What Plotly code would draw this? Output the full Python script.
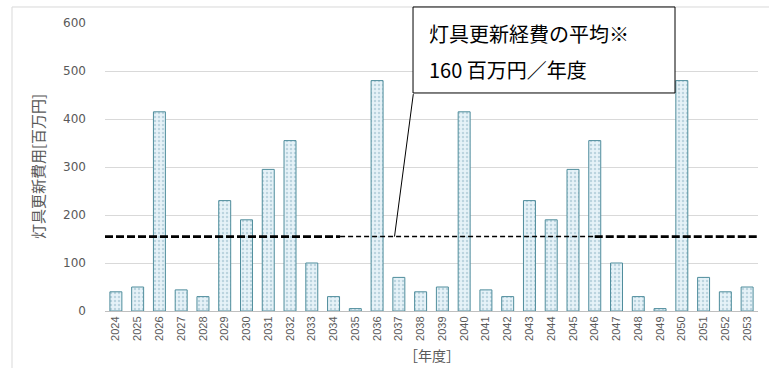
import plotly.graph_objects as go

years = [str(y) for y in range(2024, 2054)]
costs = [40, 50, 415, 44, 30, 230, 190, 295, 355, 100, 30, 5, 480, 70,
         40, 50, 415, 44, 30, 230, 190, 295, 355, 100, 30, 5, 480, 70, 40, 50]
avg_value = 155
y_ticks = [0, 100, 200, 300, 400, 500, 600]
y_title = "灯具更新費用[百万円]"
x_title = "［年度］"
callout_line1 = "灯具更新経費の平均※"
callout_line2 = "160 百万円／年度"

JP = "Noto Sans CJK JP"
GRAY = "#595959"

fig = go.Figure()
fig.add_trace(go.Bar(
    x=years, y=costs, width=0.55,
    marker=dict(color="#e6f2f8",
                line=dict(color="#4f8d9c", width=1),
                pattern=dict(shape=".", fgcolor="#8fb6c6", size=4, solidity=0.3)),
    showlegend=False,
))

# average line (thick / thin / thick dashed segments)
segs = [(-0.5, 10.3, 2.6, "8px,3px"), (10.3, 22.0, 1.5, "5px,3px"), (22.0, 29.6, 2.6, "8px,3px")]
for x0, x1, w, d in segs:
    fig.add_shape(type="line", xref="x", yref="y", x0=x0, x1=x1, y0=avg_value, y1=avg_value,
                  line=dict(color="black", width=w, dash=d), layer="above")

# outer chart border
fig.add_shape(type="rect", xref="paper", yref="paper", x0=-0.1424, x1=1.05, y0=-0.4, y1=1.0556,
              line=dict(color="#d9d9d9", width=1), layer="below")

# callout box
fig.add_shape(type="rect", xref="paper", yref="paper", x0=0.4717, x1=0.8729, y0=0.757, y1=1.0556,
              line=dict(color="black", width=1), fillcolor="white", layer="above")
fig.add_annotation(xref="paper", yref="paper", x=0.4930, y=0.965, xanchor="left", yanchor="middle",
                   text=callout_line1, showarrow=False, font=dict(family=JP, size=20, color="black"))
fig.add_annotation(xref="paper", yref="paper", x=0.4930, y=0.837, xanchor="left", yanchor="middle",
                   text=callout_line2, showarrow=False, font=dict(family=JP, size=20, color="black"))
# leader line
fig.add_annotation(xref="x", yref="y", x=12.8, y=avg_value, ax=19, ay=-144, text="",
                   showarrow=True, arrowhead=0, arrowwidth=1, arrowcolor="black", standoff=0)

# axis titles
fig.add_annotation(xref="paper", yref="paper", x=-0.104, y=0.5, xanchor="center", yanchor="middle",
                   text=y_title, textangle=-90, showarrow=False, font=dict(family=JP, size=15, color=GRAY))
fig.add_annotation(xref="paper", yref="paper", x=0.5, y=-0.153, xanchor="center", yanchor="middle",
                   text=x_title, showarrow=False, font=dict(family=JP, size=14, color=GRAY))

fig.update_layout(
    width=769, height=368,
    margin=dict(l=105, r=11, t=23, b=57),
    paper_bgcolor="white", plot_bgcolor="white",
    bargap=0.45,
    font=dict(family="Liberation Sans", color=GRAY),
)
fig.update_xaxes(type="category", tickangle=-90, tickfont=dict(family="Liberation Sans", size=11, color=GRAY),
                 showline=True, linecolor="#bfbfbf", linewidth=1, ticks="", showgrid=False,
                 range=[-0.5, 29.5])
fig.update_yaxes(range=[0, 600], tickvals=y_ticks, tickfont=dict(family="DejaVu Sans", size=12, color=GRAY),
                 showgrid=True, gridcolor="#d9d9d9", gridwidth=1, zeroline=False,
                 ticklabelstandoff=18, showline=False)

fig.write_html("out.html")
